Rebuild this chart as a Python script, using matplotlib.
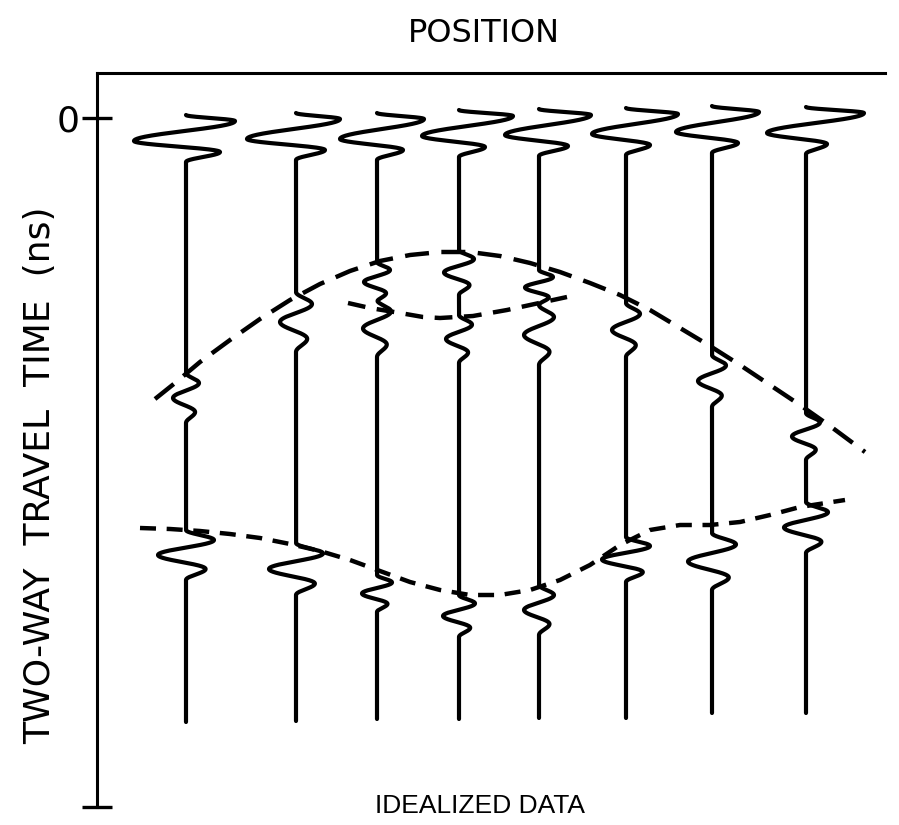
import numpy as np
import matplotlib
matplotlib.use("Agg")
import matplotlib.pyplot as plt

plt.rcParams["font.family"] = ["DejaVu Sans"]

# --- data (x = position along the line, t = two-way time, 0 at the "0" tick) ---
TRACE_X = [186, 296, 377, 459, 539, 626, 712, 806]
TRACE_END = [604, 603, 601, 601, 600, 600, 595, 595]

# direct (first) arrival: start time and its three swings right / left / right
DIRECT_T0 = [-3, -5, -5, -8, -9, -10, -12, -11]
DIRECT_R1 = [49, 44, 47, 54, 52, 52, 47, 58]
DIRECT_L1 = [-52, -49, -37, -37, -34, -34, -36, -39]
DIRECT_R2 = [34, 29, 26, 26, 29, 24, 26, 21]
DIRECT_NODES_T = [0, 6, 26, 37, 47]

# reflection events seen on each trace: (trace index, start time, amplitude, duration)
EVENT_A = [(0, 255, 13, 50), (1, 174, 16, 60), (2, 144, 13, 40), (3, 132, 15, 45),
           (4, 152, 14, 35), (5, 185, 14, 54), (6, 237, 14, 52), (7, 295, 14, 47)]
EVENT_B = [(2, 182, 14, 57), (3, 197, 13, 48), (4, 187, 15, 60)]
EVENT_C = [(0, 412, 28, 50), (1, 425, 27, 52), (2, 457, 15, 37), (3, 477, 16, 42),
           (4, 467, 15, 50), (5, 419, 24, 45), (6, 415, 24, 57), (7, 384, 22, 51)]
REFL_NODES = [0, 0.2, 0.5, 0.78, 1.0]
REFL_SHAPE = [0, 1, -1, 0.7, 0]

# interpreted reflectors (dashed)
A_X = [155, 175, 200, 230, 260, 290, 320, 350, 380, 410, 440, 470, 500, 530, 560, 590,
       620, 650, 680, 710, 740, 770, 800, 830, 865]
A_T = [281, 265, 244, 222, 201, 182, 166, 153, 143, 137, 134, 134, 138, 145, 154, 165,
       177, 192, 210, 228, 247, 267, 287, 308, 334]
B_X = [348, 370, 400, 423, 440, 473, 507, 530, 567]
B_T = [185, 190, 195, 199, 200, 198, 192, 187, 179]
C_X = [140, 170, 200, 230, 260, 290, 320, 350, 380, 410, 440, 470, 500, 530, 560, 590,
       620, 650, 680, 710, 740, 770, 800, 845]
C_T = [410, 411, 413, 416, 420, 426, 433, 442, 453, 464, 472, 477, 477, 472, 462, 447,
       427, 412, 407, 407, 404, 397, 389, 382]


def swing(t, t0, node_t, node_v):
    """piecewise half-cosine through the turning points -> hand-drawn looking wiggle"""
    out = np.zeros_like(t)
    for ta, tb, va, vb in zip(node_t[:-1], node_t[1:], node_v[:-1], node_v[1:]):
        m = (t >= t0 + ta) & (t < t0 + tb)
        s = (t[m] - t0 - ta) / (tb - ta)
        out[m] = va + (vb - va) * (1 - np.cos(np.pi * s)) / 2
    return out


fig = plt.figure(figsize=(8.99, 8.25), dpi=100)
ax = fig.add_axes([97 / 899, 1 - 807 / 825, (885 - 97) / 899, (807 - 73) / 825])
ax.set_xlim(97, 885)
ax.set_ylim(689, -45)

for sp in ("right", "bottom"):
    ax.spines[sp].set_visible(False)
for sp in ("left", "top"):
    ax.spines[sp].set_linewidth(2.2)
ax.set_xticks([])
ax.set_yticks([0, 689])
ax.set_yticklabels(["0", ""])
ax.tick_params(axis="y", direction="inout", length=21, width=2.4, pad=2, labelsize=26)

# reflectors
lw = 3.2
ax.plot(A_X, A_T, color="k", lw=lw, dashes=(5.4, 2.8), zorder=1)
ax.plot(B_X, B_T, color="k", lw=lw, dashes=(4.0, 2.6), zorder=1)
ax.plot(C_X, C_T, color="k", lw=lw, dashes=(3.6, 2.4), zorder=1)

# wiggle traces
for i, x0 in enumerate(TRACE_X):
    t = np.linspace(DIRECT_T0[i], TRACE_END[i], 4000)
    x = x0 + swing(t, DIRECT_T0[i], DIRECT_NODES_T,
                   [0, DIRECT_R1[i], DIRECT_L1[i], DIRECT_R2[i], 0])
    for events in (EVENT_A, EVENT_B, EVENT_C):
        for k, t0, amp, dur in events:
            if k == i:
                x += swing(t, t0, [f * dur for f in REFL_NODES], [amp * v for v in REFL_SHAPE])
    ax.plot(x, t, color="k", lw=3.0, solid_capstyle="round", solid_joinstyle="round", zorder=2)

fig.text(484 / 899, 1 - 33 / 825, "POSITION", ha="center", va="center", fontsize=23)
fig.text(40 / 899, 1 - 475 / 825, "TWO-WAY  TRAVEL  TIME  (ns)", rotation=90,
         ha="center", va="center", fontsize=26)
fig.text(480 / 899, 1 - 806 / 825, "IDEALIZED DATA", ha="center", va="center",
         fontsize=19, family=["Liberation Sans Narrow", "Liberation Sans", "DejaVu Sans"])

fig.savefig("out.png", dpi=100)
